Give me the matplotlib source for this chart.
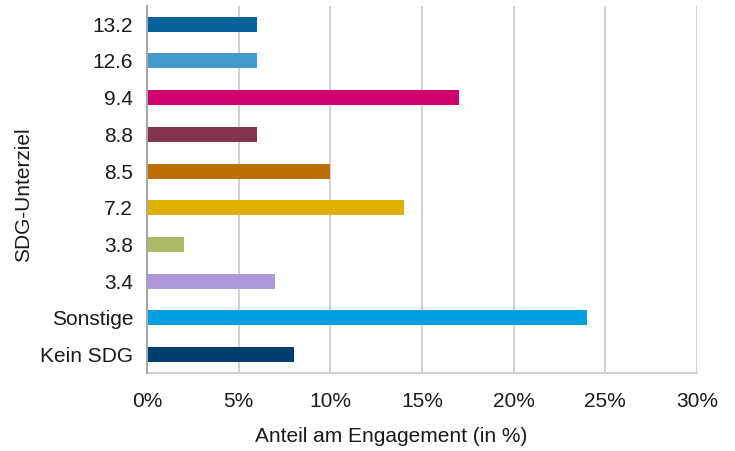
import matplotlib.pyplot as plt
from matplotlib.ticker import PercentFormatter

plt.rcParams['font.family'] = ['Liberation Sans', 'DejaVu Sans']

categories = ['13.2', '12.6', '9.4', '8.8', '8.5', '7.2', '3.8', '3.4', 'Sonstige', 'Kein SDG']
values = [6, 6, 17, 6, 10, 14, 2, 7, 24, 8]
colors = ['#03639a', '#4699cd', '#d1006f', '#84344f', '#bb6f00', '#e0b000',
          '#adb964', '#ad98dc', '#009fdf', '#003e6b']

fig = plt.figure(figsize=(7.35, 4.51), dpi=100)
ax = fig.add_axes([0.2, 0.173, 0.748, 0.814])

pos = list(range(len(categories)))
ax.barh(pos, values, height=0.41, color=colors, zorder=3)
ax.set_yticks(pos)
ax.set_yticklabels(categories)
ax.set_ylim(len(categories) - 0.5, -0.5)

ax.set_xlim(0, 30)
ax.set_xticks(range(0, 31, 5))
ax.xaxis.set_major_formatter(PercentFormatter(decimals=0))
ax.grid(axis='x', color='#c8c8c8', linewidth=1.2, zorder=0)

for s in ['top', 'right']:
    ax.spines[s].set_visible(False)
ax.spines['left'].set_color('#a6a6a6')
ax.spines['left'].set_linewidth(1.5)
ax.spines['bottom'].set_color('#d0d0d0')
ax.spines['bottom'].set_linewidth(1.5)
ax.spines['left'].set_zorder(4)

ax.tick_params(axis='both', length=0, labelsize=15, colors='#1a1a1a')
ax.tick_params(axis='x', pad=14)
ax.tick_params(axis='y', pad=10)

ax.set_xlabel('Anteil am Engagement (in %)', fontsize=15, color='#1a1a1a')
ax.xaxis.set_label_coords(0.445, -0.148)
ax.set_ylabel('SDG-Unterziel', fontsize=15, color='#1a1a1a')
ax.yaxis.set_label_coords(-0.207, 0.485)

fig.savefig('out.png', dpi=100)
